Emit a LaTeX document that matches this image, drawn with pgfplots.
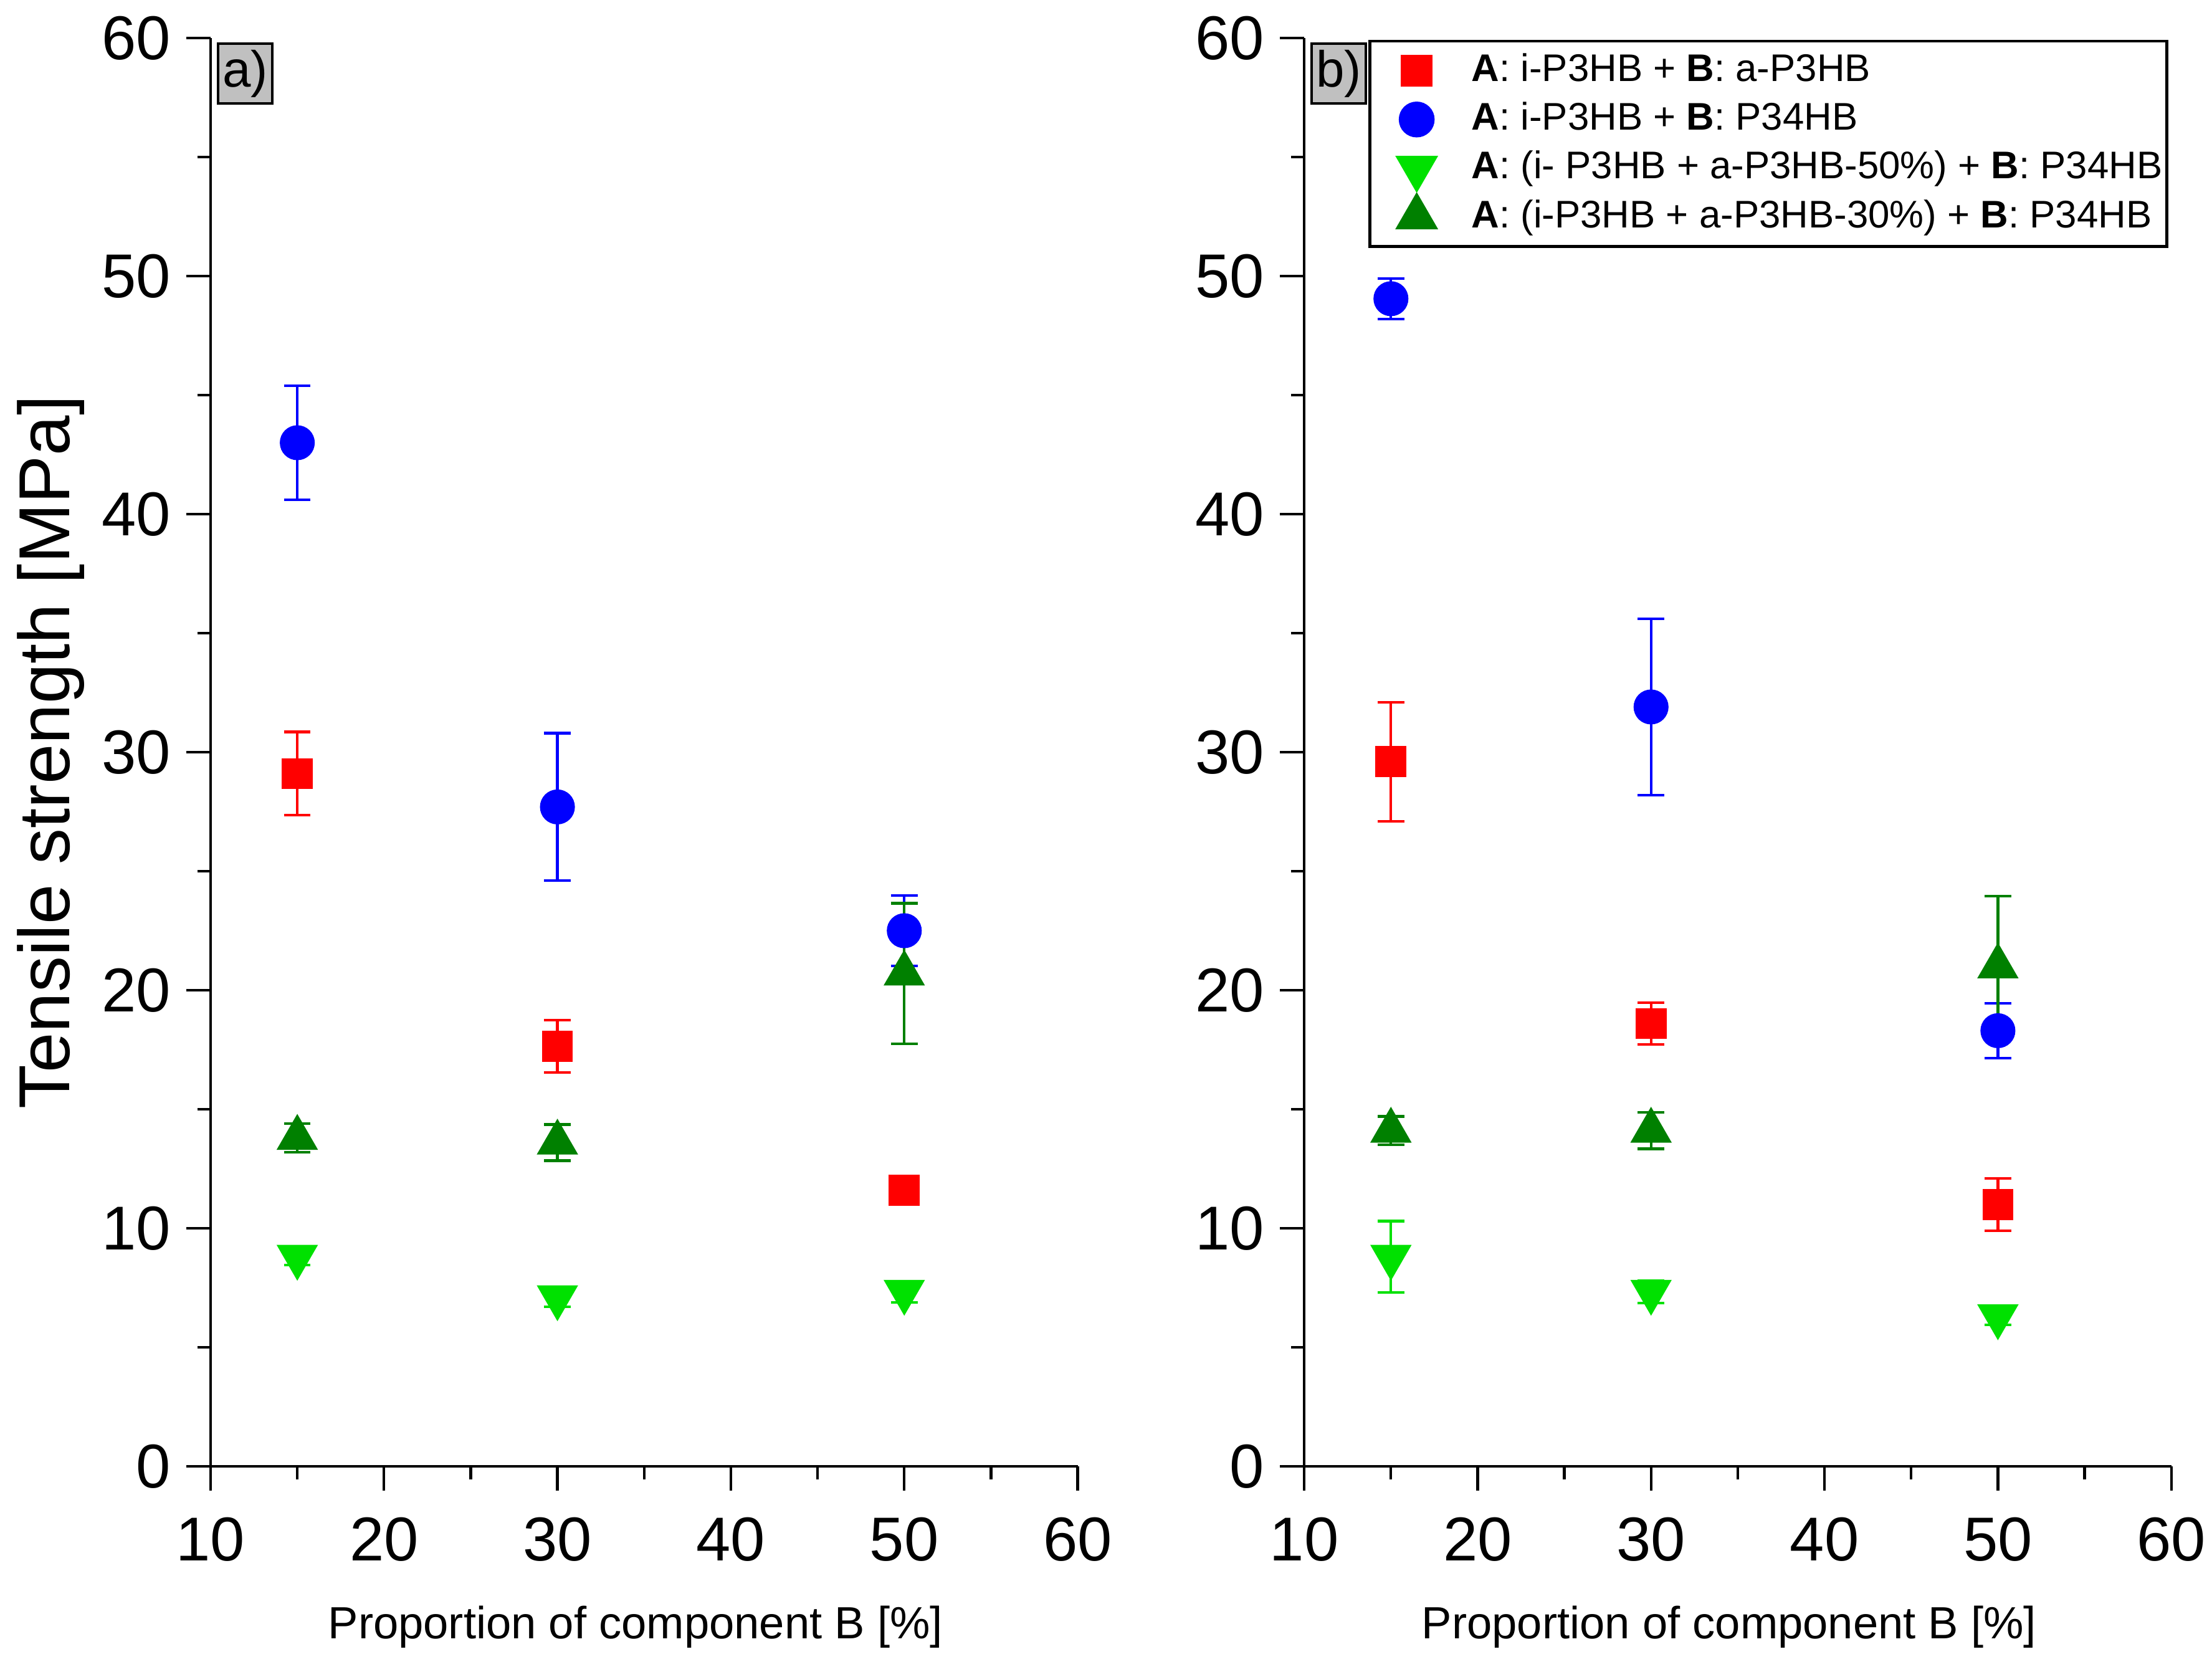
\documentclass[border=0pt]{standalone}
\usepackage{fontspec}
\setmainfont{Liberation Sans}
\usepackage{pgfplots}
\pgfplotsset{compat=1.18}
\definecolor{lgreen}{RGB}{0,225,0}
\definecolor{dgreen}{RGB}{0,128,0}
\definecolor{boxgray}{RGB}{192,192,192}

\tikzset{labbox/.style={draw=black, fill=boxgray, line width=0.6pt, anchor=north west, minimum width=12.2pt, minimum height=13.5pt, inner sep=0pt, font=\fontsize{11.5}{13}\selectfont}}

\pgfplotsset{
  myax/.style={
    scale only axis, width=196pt, height=322.8pt,
    xmin=10, xmax=60, ymin=0, ymax=60,
    axis lines=left, axis line style={-, line width=0.6pt},
    xtick={10,20,...,60}, ytick={0,10,...,60},
    minor x tick num=1, minor y tick num=1,
    tick align=outside, major tick length=5.5pt, minor tick length=3pt,
    every tick/.style={line width=0.6pt, black},
    ticklabel style={font=\fontsize{14}{16}\selectfont},
    xticklabel style={yshift=-2.6pt},
    /pgf/number format/assume math mode=true,
    xlabel={Proportion of component B [\%]},
    xlabel style={font=\fontsize{10.2}{12}\selectfont, at={(axis description cs:0.49,-0.1125)}, anchor=center},
    clip=false,
    error bars/y dir=both, error bars/y explicit,
    error bars/error mark options={rotate=90, mark size=3pt, line width=0.6pt},
    error bars/error bar style={line width=0.6pt},
  },
  sq/.style={only marks, color=red, mark=square*, mark size=3.3pt, mark options={fill=red, draw=red}},
  ci/.style={only marks, color=blue, mark=*, mark size=3.75pt, mark options={fill=blue, draw=blue}},
  dt/.style={only marks, color=lgreen, mark=triangle*, mark size=5pt, mark options={fill=lgreen, draw=lgreen, rotate=180}},
  ut/.style={only marks, color=dgreen, mark=triangle*, mark size=5pt, mark options={fill=dgreen, draw=dgreen}},
}

\begin{document}
\begin{tikzpicture}
\useasboundingbox (0,0) rectangle (500pt,375.5pt);
% ---------------- panel a
\begin{axis}[myax, at={(47.6pt,44.1pt)}, anchor=south west,
  ylabel={Tensile strength [MPa]},
  ylabel style={font=\fontsize{16.3}{19}\selectfont, at={(axis description cs:-0.184,0.5)}, anchor=center}]
\addplot+[sq] table[x=x,y=y,y error=e] {
x y e
15 29.1 1.75
30 17.64 1.1
50 11.6 0.2
};
\addplot+[ci] table[x=x,y=y,y error=e] {
x y e
15 43.0 2.4
30 27.7 3.1
50 22.5 1.47
};
\addplot+[dt] table[x=x,y=y,y error=e] {
x y e
15 8.8 0.35
30 7.1 0.4
50 7.33 0.45
};
\addplot+[ut] table[x=x,y=y,y error=e] {
x y e
15 13.8 0.6
30 13.6 0.76
50 20.7 2.95
};
\node[labbox] at ([xshift=1.4pt,yshift=-1pt]rel axis cs:0,1) {a)};
\end{axis}
% ---------------- panel b
\begin{axis}[myax, at={(294.8pt,44.1pt)}, anchor=south west,
  legend cell align=left,
  legend image code/.code={\path (-10.3pt,0pt) (11.1pt,0pt);\draw[mark repeat=2,mark phase=2,#1] plot coordinates {(-1pt,0pt) (0pt,0pt) (1pt,0pt)};},
  legend style={at={([xshift=-0.7pt,yshift=-0.4pt]rel axis cs:1,1)}, anchor=north east, draw=black, line width=0.6pt,
    font=\fontsize{8.7}{10.4}\selectfont, row sep=-0.8pt, inner xsep=0pt, inner ysep=0.8pt,
    nodes={inner xsep=1pt}}]
\addplot+[sq] table[x=x,y=y,y error=e] {
x y e
15 29.6 2.5
30 18.6 0.88
50 11.0 1.1
};
\addlegendentry{\textbf{A}: i-P3HB + \textbf{B}: a-P3HB}
\addplot+[ci] table[x=x,y=y,y error=e] {
x y e
15 49.05 0.85
30 31.9 3.7
50 18.3 1.16
};
\addlegendentry{\textbf{A}: i-P3HB + \textbf{B}: P34HB}
\addplot+[dt] table[x=x,y=y,y error=e] {
x y e
15 8.8 1.5
30 7.33 0.47
50 6.3 0.35
};
\addlegendentry{\textbf{A}: (i- P3HB + a-P3HB-50\%) + \textbf{B}: P34HB}
\addplot+[ut] table[x=x,y=y,y error=e] {
x y e
15 14.1 0.6
30 14.1 0.76
50 21.0 2.96
};
\addlegendentry{\textbf{A}: (i-P3HB + a-P3HB-30\%) + \textbf{B}: P34HB}
\node[labbox] at ([xshift=1.4pt,yshift=-1pt]rel axis cs:0,1) {b)};
\end{axis}
\end{tikzpicture}
\end{document}
